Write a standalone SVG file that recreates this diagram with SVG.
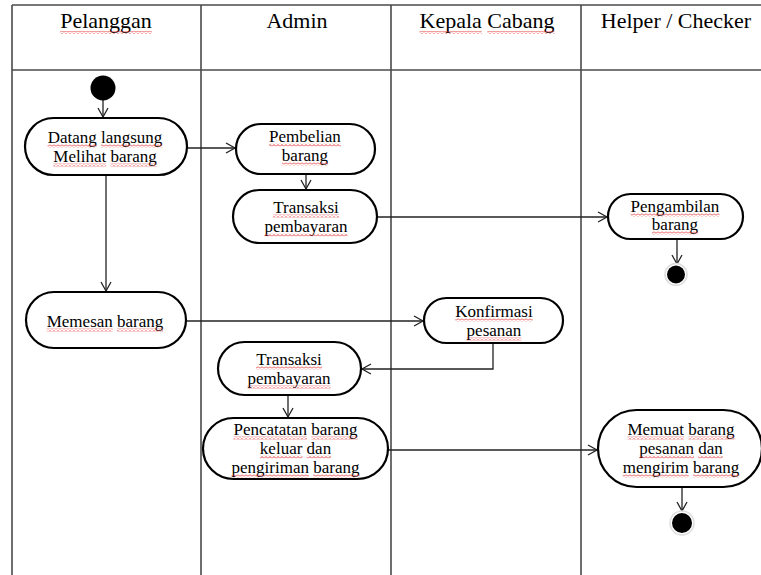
<svg xmlns="http://www.w3.org/2000/svg" width="761" height="575" viewBox="0 0 761 575">
<defs>
<style>
.lane{stroke:#4a4a4a;stroke-width:1.6;fill:none}
.act{fill:#fff;stroke:#000;stroke-width:2.2}
.t{font-family:"Liberation Serif","Times New Roman",serif;font-size:17px;fill:#000;text-anchor:middle}
.h{font-family:"Liberation Serif","Times New Roman",serif;font-size:22px;fill:#000;text-anchor:middle}
.w{fill:url(#sq)}
.c{stroke:#222;stroke-width:1.3;fill:none}
</style>
<pattern id="sq" width="4" height="3" patternUnits="userSpaceOnUse">
<path d="M0,2.5 L2,0.5 L4,2.5" fill="none" stroke="#e02828" stroke-width="0.9"/>
</pattern>
<marker id="arr" markerWidth="12" markerHeight="12" refX="10" refY="6" orient="auto" markerUnits="userSpaceOnUse">
<path d="M1,1 L10,6 L1,11" fill="none" stroke="#222" stroke-width="1.3"/>
</marker>
</defs>
<rect width="761" height="575" fill="#fff"/>
<g id="lanes">
<line class="lane" x1="12" y1="5" x2="761" y2="5"/>
<line class="lane" x1="12" y1="70" x2="761" y2="70"/>
<line class="lane" x1="12" y1="5" x2="12" y2="575"/>
<line class="lane" x1="201" y1="5" x2="201" y2="575"/>
<line class="lane" x1="391" y1="5" x2="391" y2="575"/>
<line class="lane" x1="581" y1="5" x2="581" y2="575"/>
<text class="h" x="106" y="28">Pelanggan</text>
<rect class="w" x="60.2" y="31" width="91.6" height="3"/>
<text class="h" x="297" y="28">Admin</text>
<text class="h" x="487" y="28">Kepala Cabang</text>
<rect class="w" x="419.5" y="31" width="62.3" height="3"/>
<rect class="w" x="487.3" y="31" width="67.2" height="3"/>
<text class="h" x="676" y="28">Helper / Checker</text>
</g>
<g id="connectors">
<line class="c" x1="103" y1="100" x2="103" y2="117" marker-end="url(#arr)"/>
<line class="c" x1="187" y1="148" x2="235" y2="148" marker-end="url(#arr)"/>
<line class="c" x1="306" y1="174" x2="306" y2="189" marker-end="url(#arr)"/>
<line class="c" x1="106" y1="175" x2="106" y2="291" marker-end="url(#arr)"/>
<line class="c" x1="377" y1="217" x2="607" y2="217" marker-end="url(#arr)"/>
<line class="c" x1="677" y1="239" x2="677" y2="264" marker-end="url(#arr)"/>
<line class="c" x1="186" y1="321" x2="423" y2="321" marker-end="url(#arr)"/>
<polyline class="c" points="493,343 493,369 362,369" marker-end="url(#arr)"/>
<line class="c" x1="288" y1="395" x2="288" y2="417" marker-end="url(#arr)"/>
<line class="c" x1="388" y1="450" x2="597" y2="450" marker-end="url(#arr)"/>
<line class="c" x1="682" y1="487" x2="682" y2="511" marker-end="url(#arr)"/>
</g>
<g id="start">
<circle cx="103" cy="88" r="12.5" fill="#000"/>
</g>
<g id="datang">
<rect class="act" x="25" y="118" width="162" height="57" rx="28.5"/>
<text class="t" x="105" y="143">Datang langsung</text>
<text class="t" x="105" y="162">Melihat barang</text>
<rect class="w" x="47.6" y="144.5" width="49.1" height="3"/>
<rect class="w" x="100.9" y="144.5" width="61.4" height="3"/>
<rect class="w" x="53.3" y="163.5" width="52.9" height="3"/>
<rect class="w" x="110.5" y="163.5" width="46.2" height="3"/>
</g>
<g id="pembelian">
<rect class="act" x="236" y="124" width="139" height="50" rx="25"/>
<text class="t" x="305" y="142">Pembelian</text>
<text class="t" x="305" y="161">barang</text>
<rect class="w" x="269.1" y="143.5" width="71.8" height="3"/>
<rect class="w" x="281.9" y="162.5" width="46.2" height="3"/>
</g>
<g id="transaksi1">
<rect class="act" x="233" y="190" width="144" height="53" rx="26.5"/>
<text class="t" x="306" y="213">Transaksi</text>
<text class="t" x="306" y="232">pembayaran</text>
<rect class="w" x="272.9" y="214.5" width="66.2" height="3"/>
<rect class="w" x="264.5" y="233.5" width="83" height="3"/>
</g>
<g id="memesan">
<rect class="act" x="26" y="292" width="160" height="56" rx="28"/>
<text class="t" x="105" y="327">Memesan barang</text>
<rect class="w" x="46.7" y="328.5" width="66.1" height="3"/>
<rect class="w" x="117" y="328.5" width="46.3" height="3"/>
</g>
<g id="pengambilan">
<rect class="act" x="608" y="194" width="135" height="45" rx="22.5"/>
<text class="t" x="675" y="212">Pengambilan</text>
<text class="t" x="675" y="230">barang</text>
<rect class="w" x="630.6" y="213.5" width="88.8" height="3"/>
<rect class="w" x="651.9" y="231.5" width="46.2" height="3"/>
</g>
<g id="end1">
<circle cx="676" cy="274.5" r="11" fill="#fff" stroke="#ddd" stroke-width="1.5"/>
<circle cx="676" cy="274.5" r="9" fill="#000"/>
</g>
<g id="konfirmasi">
<rect class="act" x="424" y="298" width="139" height="45" rx="22.5"/>
<text class="t" x="494" y="317">Konfirmasi</text>
<text class="t" x="494" y="336">pesanan</text>
<rect class="w" x="455.3" y="318.5" width="77.4" height="3"/>
<rect class="w" x="466.6" y="337.5" width="54.8" height="3"/>
</g>
<g id="transaksi2">
<rect class="act" x="218" y="342" width="143" height="53" rx="26.5"/>
<text class="t" x="289" y="365">Transaksi</text>
<text class="t" x="289" y="384">pembayaran</text>
<rect class="w" x="255.9" y="366.5" width="66.2" height="3"/>
<rect class="w" x="247.5" y="385.5" width="83" height="3"/>
</g>
<g id="pencatatan">
<rect class="act" x="203" y="418" width="185" height="61" rx="30.5"/>
<text class="t" x="295.5" y="435">Pencatatan barang</text>
<text class="t" x="295.5" y="454">keluar dan</text>
<text class="t" x="295.5" y="473">pengiriman barang</text>
<rect class="w" x="233.4" y="436.5" width="73.6" height="3"/>
<rect class="w" x="311.3" y="436.5" width="46.3" height="3"/>
<rect class="w" x="259.9" y="455.5" width="42.5" height="3"/>
<rect class="w" x="306.6" y="455.5" width="24.5" height="3"/>
<rect class="w" x="231.5" y="474.5" width="77.4" height="3"/>
<rect class="w" x="313.2" y="474.5" width="46.3" height="3"/>
</g>
<g id="memuat">
<rect class="act" x="598" y="410" width="164" height="77" rx="38.5"/>
<text class="t" x="681" y="435">Memuat barang</text>
<text class="t" x="681" y="454">pesanan dan</text>
<text class="t" x="681" y="473">mengirim barang</text>
<rect class="w" x="627.4" y="436.5" width="56.7" height="3"/>
<rect class="w" x="688.3" y="436.5" width="46.3" height="3"/>
<rect class="w" x="639.2" y="455.5" width="54.8" height="3"/>
<rect class="w" x="698.2" y="455.5" width="24.5" height="3"/>
<rect class="w" x="622.7" y="474.5" width="66.1" height="3"/>
<rect class="w" x="693" y="474.5" width="46.3" height="3"/>
</g>
<g id="end2">
<circle cx="682" cy="523" r="12" fill="#fff" stroke="#ddd" stroke-width="1.5"/>
<circle cx="682" cy="523" r="10" fill="#000"/>
</g>
</svg>
